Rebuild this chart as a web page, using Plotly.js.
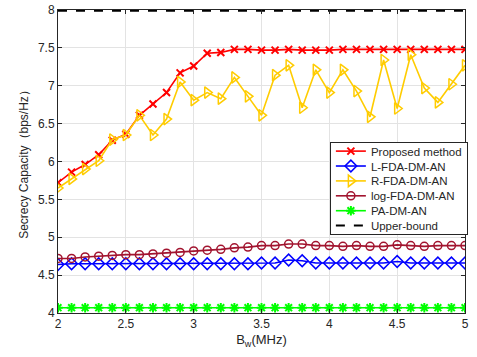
<!DOCTYPE html>
<html>
<head>
<meta charset="utf-8">
<script src="https://cdn.plot.ly/plotly-3.0.1.min.js"></script>
<style>html,body{margin:0;padding:0;background:#fff;}#chart{width:477px;height:357px;}</style>
</head>
<body>
<div id="chart"></div>
<script>
const bw = [2.0,2.1,2.2,2.3,2.4,2.5,2.6,2.7,2.8,2.9,3.0,3.1,3.2,3.3,3.4,3.5,3.6,3.7,3.8,3.9,4.0,4.1,4.2,4.3,4.4,4.5,4.6,4.7,4.8,4.9,5.0];
const proposed = [5.72,5.86,5.96,6.09,6.28,6.36,6.61,6.76,6.91,7.17,7.26,7.43,7.44,7.48,7.48,7.47,7.47,7.48,7.47,7.47,7.47,7.48,7.48,7.48,7.48,7.48,7.48,7.48,7.48,7.48,7.48];
const lFda = [4.64,4.65,4.65,4.65,4.65,4.65,4.65,4.65,4.65,4.65,4.65,4.65,4.65,4.65,4.65,4.66,4.66,4.70,4.69,4.66,4.66,4.66,4.66,4.66,4.66,4.68,4.66,4.66,4.66,4.66,4.66];
const rFda = [5.65,5.77,5.90,6.01,6.29,6.35,6.61,6.35,6.56,7.05,6.81,6.91,6.83,7.11,6.86,6.61,7.14,7.27,6.71,7.21,6.91,7.21,6.93,6.59,7.34,6.70,7.41,6.97,6.78,7.02,7.27];
const logFda = [4.72,4.72,4.74,4.75,4.76,4.77,4.77,4.78,4.79,4.80,4.82,4.83,4.84,4.86,4.87,4.89,4.89,4.91,4.91,4.89,4.89,4.88,4.89,4.88,4.88,4.90,4.89,4.88,4.89,4.89,4.89];
const paDm = [4.07,4.07,4.07,4.07,4.07,4.07,4.07,4.07,4.07,4.07,4.07,4.07,4.07,4.07,4.07,4.07,4.07,4.07,4.07,4.07,4.07,4.07,4.07,4.07,4.07,4.07,4.07,4.07,4.07,4.07,4.07];
const upper = [7.99,7.99,7.99,7.99,7.99,7.99,7.99,7.99,7.99,7.99,7.99,7.99,7.99,7.99,7.99,7.99,7.99,7.99,7.99,7.99,7.99,7.99,7.99,7.99,7.99,7.99,7.99,7.99,7.99,7.99,7.99];
const names = ['Proposed method','L-FDA-DM-AN','R-FDA-DM-AN','log-FDA-DM-AN','PA-DM-AN','Upper-bound'];
const xTicks = [2,2.5,3,3.5,4,4.5,5];
const yTicks = [4,4.5,5,5.5,6,6.5,7,7.5,8];

const traces = [
  {x:bw,y:proposed,name:names[0],mode:'lines+markers',line:{color:'#FF0000',width:1.6},marker:{symbol:'x-thin-open',size:7,line:{color:'#FF0000',width:2}}},
  {x:bw,y:lFda,name:names[1],mode:'lines+markers',line:{color:'#0000FF',width:1.6},marker:{symbol:'diamond-open',size:9,color:'#0000FF',line:{width:1.5}}},
  {x:bw,y:rFda,name:names[2],mode:'lines+markers',line:{color:'#FFCC00',width:1.6},marker:{symbol:'triangle-right-open',size:10,color:'#FFCC00',line:{width:1.5}}},
  {x:bw,y:logFda,name:names[3],mode:'lines+markers',line:{color:'#A2142F',width:1.6},marker:{symbol:'circle-open',size:8,color:'#A2142F',line:{width:1.5}}},
  {x:bw,y:paDm,name:names[4],mode:'lines+markers',line:{color:'#00FF00',width:1.6},marker:{symbol:'asterisk-open',size:8,color:'#00FF00',line:{color:'#00FF00',width:2}}},
  {x:bw,y:upper,name:names[5],mode:'lines',line:{color:'#000000',width:2,dash:'dash'}}
];

const axisCommon = {
  showline:true, linecolor:'#262626', linewidth:1, mirror:'ticks',
  ticks:'inside', ticklen:4, tickcolor:'#262626',
  showgrid:true, gridcolor:'#E3E3E3', gridwidth:1, zeroline:false,
  tickfont:{family:'Liberation Sans, Arial, sans-serif', size:12, color:'#262626'}
};

const layout = {
  width:477, height:357,
  margin:{l:58, r:9, t:10, b:44},
  paper_bgcolor:'#FFFFFF', plot_bgcolor:'#FFFFFF',
  font:{family:'Liberation Sans, Arial, sans-serif', size:12, color:'#262626'},
  xaxis:Object.assign({}, axisCommon, {range:[2,5], tickvals:xTicks, ticktext:xTicks.map(String),
    title:{text:'B<sub>w</sub>(MHz)', font:{size:13, color:'#262626'}, standoff:4}}),
  yaxis:Object.assign({}, axisCommon, {range:[4,8], tickvals:yTicks, ticktext:yTicks.map(String),
    title:{text:'Secrecy Capacity（bps/Hz）', font:{size:12, color:'#262626'}, standoff:6}}),
  legend:{x:0.668, y:0.564, xanchor:'left', yanchor:'top', bgcolor:'#FFFFFF', bordercolor:'#262626', borderwidth:1,
    font:{size:11.5, color:'#262626'}, tracegroupgap:0, itemwidth:30},
  showlegend:true
};

Plotly.newPlot('chart', traces, layout, {staticPlot:true, displayModeBar:false}).then(gd => {
  // compact legend rows to match the reference spacing
  const leg = gd.querySelector('g.legend');
  if (!leg) return;
  const items = leg.querySelectorAll('g.traces');
  const step = 14.9, top = 9;
  items.forEach((it, i) => {
    const t = it.getAttribute('transform') || '';
    const m = /translate\(\s*([-\d.e]+)[ ,]+([-\d.e]+)\s*\)/.exec(t);
    const xOff = m ? m[1] : 0;
    it.setAttribute('transform', 'translate(' + xOff + ',' + (top + i * step) + ')');
  });
  const h = top + (items.length - 1) * step + 8.5;
  const bg = leg.querySelector('rect.bg');
  if (bg) bg.setAttribute('height', h);
  leg.querySelectorAll('clipPath rect').forEach(r => r.setAttribute('height', h));
});
</script>
</body>
</html>
